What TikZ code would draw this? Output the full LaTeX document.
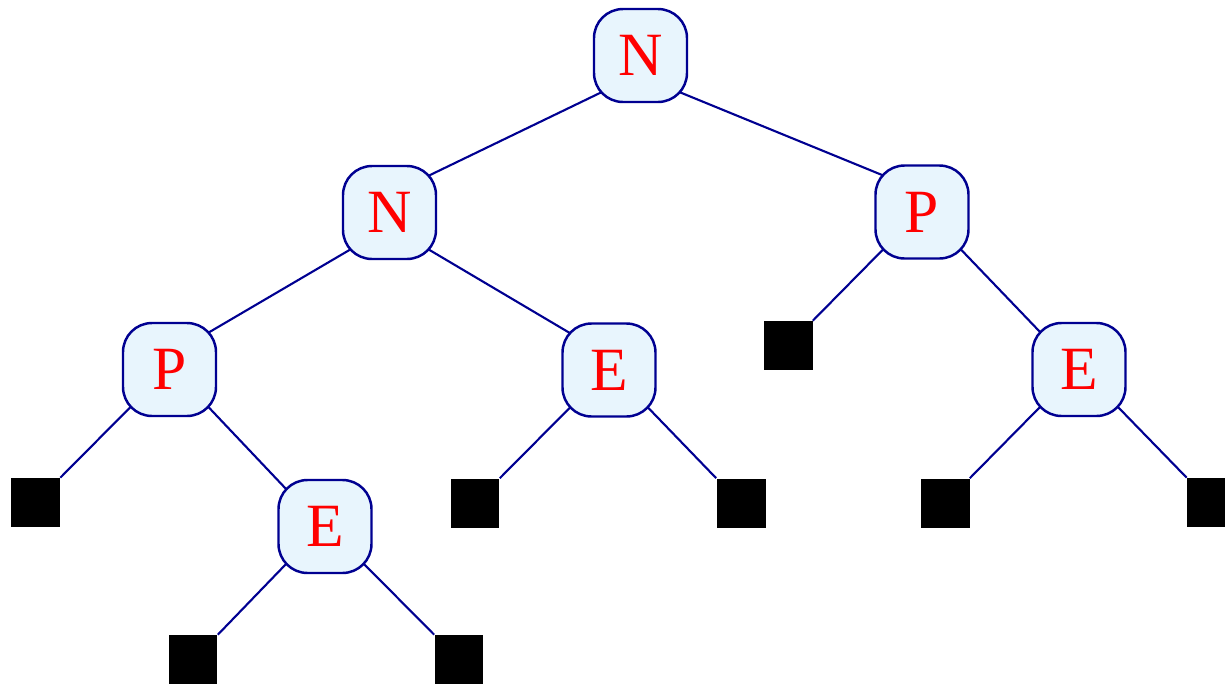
\documentclass[tikz,border=0pt]{standalone}
\usepackage{fontspec}
\setmainfont{Liberation Serif}
\usetikzlibrary{calc,backgrounds}
\definecolor{treeblue}{RGB}{0,0,145}
\definecolor{nodefill}{RGB}{232,245,253}
\begin{document}
\begin{tikzpicture}[x=0.02cm,y=-0.02cm,
  treenode/.style={draw=treeblue, line width=1.4pt, fill=nodefill,
    rounded corners=0.58cm, minimum size=1.86cm, inner sep=0pt,
    text=red, font=\fontsize{35}{35}\selectfont},
  leafbox/.style={fill=black, minimum size=0.98cm, inner sep=0pt},
  branch/.style={draw=treeblue, line width=1.2pt, shorten <=-3pt, shorten >=-3pt},
  twig/.style={draw=treeblue, line width=1.2pt, shorten <=-3pt}]
\useasboundingbox (0,0) rectangle (1225,684);

% inner nodes
\node[treenode] (root) at (640.5,55.5) {N};
\node[treenode] (n1) at (389.5,212.5) {N};
\node[treenode] (p1) at (922,212) {P};
\node[treenode] (p2) at (169.5,369.5) {P};
\node[treenode] (e2) at (609,370) {E};
\node[treenode] (e3) at (1079,369.5) {E};
\node[treenode] (e4) at (325,526.5) {E};

% leaves
\node[leafbox] (s1) at (788,345.5) {};
\node[leafbox] (s2) at (35.5,502.5) {};
\node[leafbox] (s3) at (475,503) {};
\node[leafbox] (s4) at (741,503) {};
\node[leafbox] (s5) at (945,503) {};
\node[leafbox] (s6) at (1211.5,502.5) {};
\node[leafbox] (s7) at (193,659.5) {};
\node[leafbox] (s8) at (459,659.5) {};

% connectors, drawn beneath the nodes
\begin{scope}[on background layer]
  \draw[branch] ($(root)+(-37.5,36)$) -- ($(n1)+(37.5,-36)$);
  \draw[branch] ($(root)+(37.5,36)$) -- ($(p1)+(-37.5,-36)$);
  \draw[branch] ($(n1)+(-37.5,36)$) -- ($(p2)+(37.5,-36)$);
  \draw[branch] ($(n1)+(37.5,36)$) -- ($(e2)+(-37.5,-36)$);
  \draw[branch] ($(p1)+(37.5,36)$) -- ($(e3)+(-37.5,-36)$);
  \draw[branch] ($(p2)+(37.5,36)$) -- ($(e4)+(-37.5,-36)$);
  \draw[twig] ($(p1)+(-37.5,36)$) -- (s1.north east);
  \draw[twig] ($(p2)+(-37.5,36)$) -- (s2.north east);
  \draw[twig] ($(e2)+(-37.5,36)$) -- (s3.north east);
  \draw[twig] ($(e2)+(37.5,36)$) -- (s4.north west);
  \draw[twig] ($(e3)+(-37.5,36)$) -- (s5.north east);
  \draw[twig] ($(e3)+(37.5,36)$) -- (s6.north west);
  \draw[twig] ($(e4)+(-37.5,36)$) -- (s7.north east);
  \draw[twig] ($(e4)+(37.5,36)$) -- (s8.north west);
\end{scope}
\end{tikzpicture}
\end{document}
